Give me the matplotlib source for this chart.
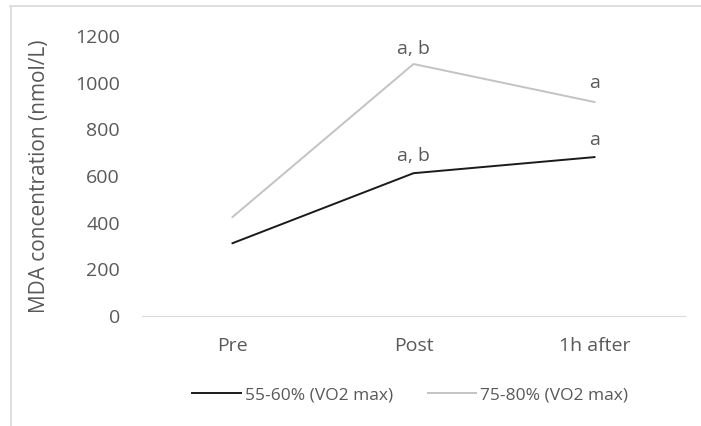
import matplotlib.pyplot as plt
from matplotlib.lines import Line2D

categories = ['Pre', 'Post', '1h after']
moderate = [312, 612, 681]
intense = [424, 1080, 917]
moderate_labels = ['', 'a, b', 'a']
intense_labels = ['', 'a, b', 'a']
series_names = ['55-60% (VO2 max)', '75-80% (VO2 max)']

plt.rcParams['font.family'] = ['Open Sans', 'DejaVu Sans']
txt = '#595959'

fig = plt.figure(figsize=(7.01, 4.26), dpi=100)
ax = fig.add_axes([142 / 701, 1 - 316 / 426, 543 / 701, 280 / 426])

x = range(len(categories))
ax.plot(x, moderate, color='#1a1a1a', lw=1.4, label=series_names[0])
ax.plot(x, intense, color='#c3c3c3', lw=1.4, label=series_names[1])

for i, lab in enumerate(intense_labels):
    if lab:
        ax.annotate(lab, (i, intense[i]), xytext=(0, 4 if i == 1 else 7),
                    textcoords='offset points', ha='center', va='bottom',
                    fontsize=14, color=txt)
for i, lab in enumerate(moderate_labels):
    if lab:
        ax.annotate(lab, (i, moderate[i]), xytext=(0, 6), textcoords='offset points',
                    ha='center', va='bottom', fontsize=14, color=txt)

ax.set_xlim(-0.5, 2.5)
ax.set_ylim(0, 1200)
ax.set_yticks(range(0, 1201, 200))
ax.set_xticks(list(x))
ax.set_xticklabels(categories)
ax.tick_params(axis='both', length=0, labelsize=14, colors=txt)
ax.tick_params(axis='y', pad=16)
ax.tick_params(axis='x', pad=15)
for s in ['top', 'right', 'left']:
    ax.spines[s].set_visible(False)
ax.spines['bottom'].set_color('#d9d9d9')
ax.set_ylabel('MDA concentration (nmol/L)', fontsize=15, color=txt, labelpad=18)

ax.legend(loc='center', bbox_to_anchor=(0.494, -0.282), ncol=2, frameon=False,
          fontsize=12.5, labelcolor=txt, handlelength=2.8, handletextpad=0.23,
          columnspacing=2.0)

# chart area border (top and left visible)
fig.add_artist(Line2D([10 / 701, 1], [1 - 5.5 / 426] * 2, color='#d9d9d9', lw=1.2))
fig.add_artist(Line2D([10.5 / 701] * 2, [0, 1 - 5.5 / 426], color='#d9d9d9', lw=1.2))

fig.savefig('out.png', dpi=100)
